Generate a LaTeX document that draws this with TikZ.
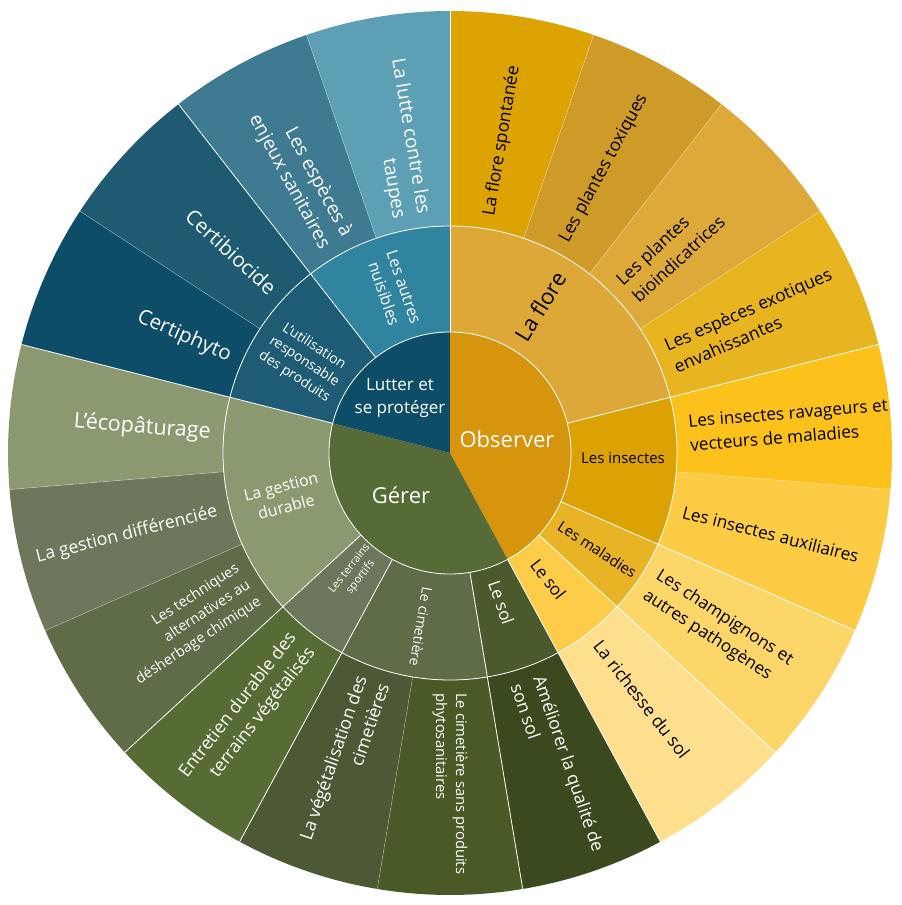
\documentclass[tikz,border=0pt]{standalone}
\usepackage{fontspec}
\setmainfont{Open Sans}
\usetikzlibrary{calc}

\definecolor{obsv}{RGB}{214,149,12}
\definecolor{flore}{RGB}{221,168,56}
\definecolor{insect}{RGB}{220,162,4}
\definecolor{malad}{RGB}{232,180,37}
\definecolor{solo}{RGB}{253,205,74}
\definecolor{fspont}{RGB}{221,163,3}
\definecolor{ftox}{RGB}{207,155,40}
\definecolor{fbio}{RGB}{221,169,57}
\definecolor{fexo}{RGB}{232,180,32}
\definecolor{irav}{RGB}{253,193,28}
\definecolor{iaux}{RGB}{253,203,68}
\definecolor{champ}{RGB}{253,214,106}
\definecolor{richsol}{RGB}{254,223,142}
\definecolor{gerer}{RGB}{86,107,53}
\definecolor{solg}{RGB}{74,90,44}
\definecolor{cimet}{RGB}{94,108,72}
\definecolor{terr}{RGB}{108,119,91}
\definecolor{gest}{RGB}{139,153,113}
\definecolor{amel}{RGB}{58,74,30}
\definecolor{cimsp}{RGB}{74,90,39}
\definecolor{veget}{RGB}{76,89,52}
\definecolor{entr}{RGB}{86,108,52}
\definecolor{techn}{RGB}{94,108,71}
\definecolor{gdiff}{RGB}{108,119,91}
\definecolor{ecop}{RGB}{139,153,113}
\definecolor{lutter}{RGB}{14,77,104}
\definecolor{utilis}{RGB}{30,91,116}
\definecolor{nuis}{RGB}{48,132,159}
\definecolor{cphyto}{RGB}{14,77,104}
\definecolor{cbio}{RGB}{30,91,114}
\definecolor{enjeux}{RGB}{62,122,145}
\definecolor{taupes}{RGB}{93,159,181}

\def\ringpart[#1](#2:#3:#4:#5){\fill[#1] (#2:#4) arc (#2:#3:#4) -- (#3:#5) arc (#3:#2:#5) -- cycle;}
\newcommand\fsz[2]{\fontsize{#1}{#2}\selectfont}

\tikzset{
  sep/.style={white, line width=0.8},
  sepfaint/.style={white, opacity=0.35, line width=0.6},
  leafout/.style={anchor=west, inner sep=0, align=left},
  leafin/.style={anchor=east, inner sep=0, align=right},
  mid/.style={inner sep=0, align=center}
}

\begin{document}
\begin{tikzpicture}[x=1pt, y=1pt]
		\useasboundingbox (-450, -452) rectangle (452, 453);
		%%%%% CENTRE %%%%%
		\fill[obsv] (0, 0) -- (90:121) arc (90:-61.58:121) -- cycle;
		\fill[gerer] (0, 0) -- (-61.58:121) arc (-61.58:-194.21:121) -- cycle;
		\fill[lutter] (0, 0) -- (-194.21:121) arc (-194.21:-270:121) -- cycle;
		
		%%%%% MIDDLE RING %%%%%
		\ringpart[flore](90:14.21:121:227)
		\ringpart[insect](14.21:-23.68:121:227)
		\ringpart[malad](-23.68:-42.63:121:227)
		\ringpart[solo](-42.63:-61.58:121:227)
		\ringpart[solg](-61.58:-80.53:121:227)
		\ringpart[cimet](-80.53:-118.42:121:227)
		\ringpart[terr](-118.42:-137.37:121:227)
		\ringpart[gest](-137.37:-194.21:121:227)
		\ringpart[utilis](-194.21:-232.11:121:227)
		\ringpart[nuis](-232.11:-270:121:227)
		
		%%%%% OUTER RING %%%%%
		\ringpart[fspont](90:71.05:227:442)
		\ringpart[ftox](71.05:52.11:227:442)
		\ringpart[fbio](52.11:33.16:227:442)
		\ringpart[fexo](33.16:14.21:227:442)
		\ringpart[irav](14.21:-4.74:227:442)
		\ringpart[iaux](-4.74:-23.68:227:442)
		\ringpart[champ](-23.68:-42.63:227:442)
		\ringpart[richsol](-42.63:-61.58:227:442)
		\ringpart[amel](-61.58:-80.53:227:442)
		\ringpart[cimsp](-80.53:-99.47:227:442)
		\ringpart[veget](-99.47:-118.42:227:442)
		\ringpart[entr](-118.42:-137.37:227:442)
		\ringpart[techn](-137.37:-156.32:227:442)
		\ringpart[gdiff](-156.32:-175.26:227:442)
		\ringpart[ecop](-175.26:-194.21:227:442)
		\ringpart[cphyto](-194.21:-213.16:227:442)
		\ringpart[cbio](-213.16:-232.11:227:442)
		\ringpart[enjeux](-232.11:-251.05:227:442)
		\ringpart[taupes](-251.05:-270:227:442)
		
		%%%%% WHITE LINES %%%%%
		\draw[sep] (0, 0) circle (121);
		\draw[sep] (0, 0) circle (227);
		\draw[sep] (90:121) -- (90:442);
		\draw[sep] (14.21:121) -- (14.21:442);
		\draw[sep] (-23.68:121) -- (-23.68:442);
		\draw[sep] (-42.63:121) -- (-42.63:442);
		\draw[sep] (-61.58:121) -- (-61.58:442);
		\draw[sep] (-80.53:121) -- (-80.53:442);
		\draw[sep] (-118.42:121) -- (-118.42:442);
		\draw[sep] (-137.37:121) -- (-137.37:442);
		\draw[sep] (-194.21:121) -- (-194.21:442);
		\draw[sep] (-232.11:121) -- (-232.11:442);
		\draw[sepfaint] (71.05:227) -- (71.05:442);
		\draw[sepfaint] (52.11:227) -- (52.11:442);
		\draw[sepfaint] (33.16:227) -- (33.16:442);
		\draw[sepfaint] (-4.74:227) -- (-4.74:442);
		\draw[sepfaint] (-99.47:227) -- (-99.47:442);
		\draw[sepfaint] (-156.32:227) -- (-156.32:442);
		\draw[sepfaint] (-175.26:227) -- (-175.26:442);
		\draw[sepfaint] (-213.16:227) -- (-213.16:442);
		\draw[sepfaint] (-251.05:227) -- (-251.05:442);
		
		%%%%% CENTRE LABELS %%%%%
		\node[mid, white, font=\fsz{22}{28}] (observer) at (57, 14) {Observer};
		\node[mid, white, font=\fsz{22}{28}] (gerer) at (-49, -42) {Gérer};
		\node[mid, white, font=\fsz{17}{23}] (lutter) at (-50, 55) {Lutter et\\se protéger};
		
		%%%%% MIDDLE LABELS %%%%%
		\node[mid, font=\fsz{22}{28}, rotate=58.5] (laflore) at (58.4:172) {La flore};
		\node[mid, font=\fsz{15}{20}] (insectes) at (173, -5) {Les insectes};
		\node[mid, font=\fsz{15}{20}, rotate=-33.16] (maladies) at (-33.16:176) {Les maladies};
		\node[mid, font=\fsz{17}{22}, rotate=-52.11] (solobs) at (-52.11:160) {Le sol};
		\node[mid, white, font=\fsz{17}{22}, rotate=-71.05] (solger) at (-71.05:158) {Le sol};
		\node[mid, white, font=\fsz{14}{19}, rotate=-99.47] (cimetiere) at (-99.47:176) {Le cimetière};
		\node[mid, white, font=\fsz{11}{14}, rotate=52.11] (terrains) at (-128.3:153) {Les terrains\\sportifs};
		\node[mid, white, font=\fsz{16}{21}, rotate=14.21] (gestion) at (-165.3:172) {La gestion\\durable};
		\node[mid, white, font=\fsz{14}{18}, rotate=-33.16] (utilisation) at (148:172) {L’utilisation\\responsable\\des produits};
		\node[mid, white, font=\fsz{16}{21}, rotate=-71.05] (nuisibles) at (109:172) {Les autres\\nuisibles};
		
		%%%%% OUTER LABELS %%%%%
		\node[leafout, font=\fsz{17.5}{24}, rotate=80.53] (spontanee) at (80.53:240) {La flore spontanée};
		\node[leafout, font=\fsz{17.5}{24}, rotate=61.58] (toxiques) at (61.58:240) {Les plantes toxiques};
		\node[leafout, font=\fsz{17.5}{24}, rotate=42.63] (bioind) at (42.63:240) {Les plantes\\bioindicatrices};
		\node[leafout, font=\fsz{17.5}{24}, rotate=23.68] (exotiques) at (23.68:240) {Les espèces exotiques\\envahissantes};
		\node[leafout, font=\fsz{17.2}{24}, rotate=4.74] (ravageurs) at (4.74:240) {Les insectes ravageurs et\\vecteurs de maladies};
		\node[leafout, font=\fsz{17.2}{24}, rotate=-14.21] (auxiliaires) at (-14.21:240) {Les insectes auxiliaires};
		\node[leafout, font=\fsz{17.2}{24}, rotate=-33.16] (champignons) at (-33.16:240) {Les champignons et\\autres pathogènes};
		\node[leafout, font=\fsz{17.5}{24}, rotate=-52.11] (richesse) at (-52.11:240) {La richesse du sol};
		\node[leafout, white, font=\fsz{17.5}{24}, rotate=-71.05] (ameliorer) at (-71.05:240) {Améliorer la qualité de\\son sol};
		\node[leafout, white, font=\fsz{14.8}{20}, rotate=-90] (sansproduits) at (-90:240) {Le cimetière sans produits\\phytosanitaires};
		\node[leafin, white, font=\fsz{17.8}{24}, rotate=71.05] (vegetal) at (-108.95:240) {La végétalisation des\\cimetières};
		\node[leafin, white, font=\fsz{17.8}{24}, rotate=52.11] (entretien) at (-127.89:240) {Entretien durable des\\terrains végétalisés};
		\node[leafin, white, font=\fsz{14.5}{20}, rotate=33.16] (techniques) at (-146.84:240) {Les techniques\\alternatives au\\désherbage chimique};
		\node[leafin, white, font=\fsz{17.7}{24}, rotate=14.21] (differenciee) at (-165.79:240) {La gestion différenciée};
		\node[leafin, white, font=\fsz{21.5}{28}, rotate=-4.74] (ecopat) at (-184.74:240) {L’écopâturage};
		\node[leafin, white, font=\fsz{20.5}{27}, rotate=-23.68] (certiphyto) at (-203.68:240) {Certiphyto};
		\node[leafin, white, font=\fsz{20.5}{27}, rotate=-42.63] (certibio) at (-222.63:240) {Certibiocide};
		\node[leafin, white, font=\fsz{19}{25}, rotate=-61.58] (enjeux) at (-241.58:240) {Les espèces à\\enjeux sanitaires};
		\node[leafin, white, font=\fsz{19}{25}, rotate=-80.53] (taupes) at (-260.53:240) {La lutte contre les\\taupes};
		%%%%% END %%%%%
\end{tikzpicture}
\end{document}
